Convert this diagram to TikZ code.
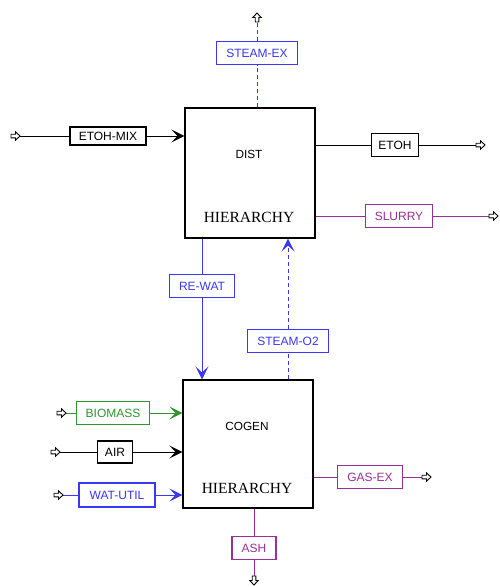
\documentclass[tikz,border=0pt]{standalone}
\usepackage{fontspec}
\setmainfont{Liberation Sans}
\newfontfamily\hierfont{Liberation Serif}
\usetikzlibrary{arrows.meta}
\definecolor{strblue}{RGB}{56,56,245}
\definecolor{strgreen}{RGB}{46,150,46}
\definecolor{strpurple}{RGB}{153,48,153}
\tikzset{
  block/.style={draw=black, line width=1.1pt, fill=white, minimum width=130pt, minimum height=130pt, inner sep=0pt},
  blocktext/.style={font=\fontsize{11.8}{12}\selectfont, inner sep=0pt},
  hiertext/.style={font=\hierfont\fontsize{15.5}{16}\selectfont, inner sep=0pt},
  tag/.style={draw=#1, text=#1, fill=white, line width=1.1pt, minimum height=23pt, inner sep=3pt,
              font=\fontsize{12}{12}\selectfont},
  flow/.style={draw=#1, line width=0.9pt},
  feed/.style={-{Stealth[length=13pt,width=13pt,inset=6pt]}},
  dashedflow/.style={dash pattern=on 4pt off 3pt},
  portout/.pic={\draw[black, fill=white, line width=0.9pt]
     (0,-1.8) -- (4.5,-1.8) -- (4.5,-4.2) -- (9,0) -- (4.5,4.2) -- (4.5,1.8) -- (0,1.8) -- cycle;},
  portin/.pic={\draw[black, fill=white, line width=0.9pt]
     (-9,-1.8) -- (-4.5,-1.8) -- (-4.5,-4.2) -- (0,0) -- (-4.5,4.2) -- (-4.5,1.8) -- (-9,1.8) -- cycle;},
}
\begin{document}
\begin{tikzpicture}[x=1pt, y=-1pt]
\useasboundingbox (0,0) rectangle (499,587);

% hierarchy blocks
\node[block] (dist) at (250,173) {};
\node[blocktext] at (249,154) {DIST};
\node[hiertext] at (249,217) {HIERARCHY};
\node[block, minimum height=128pt] (cogen) at (248,444) {};
\node[blocktext] at (247,426) {COGEN};
\node[hiertext] at (247,488) {HIERARCHY};

% free stream ends
\coordinate (stexout) at (257,22);
\coordinate (mixin) at (20,136);
\coordinate (etohout) at (476,145);
\coordinate (slurout) at (489,216);
\coordinate (bioin) at (66,413);
\coordinate (airin) at (60,452);
\coordinate (watin) at (63,495);
\coordinate (gasout) at (422,477);
\coordinate (ashout) at (254,576);

% stream tags
\node[tag=strblue, minimum width=81pt] (stex) at (257,53) {STEAM-EX};
\node[tag=black, minimum width=76pt, minimum height=18pt] (mix) at (108,136) {ETOH-MIX};
\node[tag=black, minimum width=47pt] (etoh) at (395,145) {ETOH};
\node[tag=strpurple, minimum width=67pt] (slur) at (399,216) {SLURRY};
\node[tag=strblue, minimum width=65pt] (rewat) at (202,286) {RE-WAT};
\node[tag=strblue, minimum width=81pt] (sto2) at (288,341) {STEAM-O2};
\node[tag=strgreen, minimum width=73pt] (bio) at (113,413) {BIOMASS};
\node[tag=black, minimum width=35pt, minimum height=22pt] (air) at (115,452) {AIR};
\node[tag=strblue, minimum width=76pt, minimum height=24pt] (wat) at (117,495) {WAT-UTIL};
\node[tag=strpurple, minimum width=65pt] (gas) at (370,477) {GAS-EX};
\node[tag=strpurple, minimum width=44pt] (ash) at (254,548) {ASH};

% streams around DIST
\draw[flow=strblue, dashedflow] (stex.south |- dist.north) -- (stex);
\draw[flow=strblue, dashedflow] (stex) -- (stexout);
\draw[flow=black] (mixin) -- (mix);
\draw[flow=black, feed] (mix) -- (dist.west |- mix);
\draw[flow=black] (dist.east |- etoh) -- (etoh) -- (etohout);
\draw[flow=strpurple] (dist.east |- slur) -- (slur) -- (slurout);

% streams between the blocks
\draw[flow=strblue] (dist.south -| rewat) -- (rewat);
\draw[flow=strblue, feed] (rewat) -- (cogen.north -| rewat);
\draw[flow=strblue, dashedflow] (cogen.north -| sto2) -- (sto2);
\draw[flow=strblue, dashedflow, feed] (sto2) -- (dist.south -| sto2);

% streams around COGEN
\draw[flow=strgreen] (bioin) -- (bio);
\draw[flow=strgreen, feed] (bio) -- (cogen.west |- bio);
\draw[flow=black] (airin) -- (air);
\draw[flow=black, feed] (air) -- (cogen.west |- air);
\draw[flow=strblue] (watin) -- (wat);
\draw[flow=strblue, feed] (wat) -- (cogen.west |- wat);
\draw[flow=strpurple] (cogen.east |- gas) -- (gas) -- (gasout);
\draw[flow=strpurple] (cogen.south -| ash) -- (ash) -- (ashout);

% port symbols at the stream ends
\pic[rotate=90] at (stexout) {portout};
\pic at (mixin) {portin};
\pic at (etohout) {portout};
\pic at (slurout) {portout};
\pic at (bioin) {portin};
\pic at (airin) {portin};
\pic at (watin) {portin};
\pic at (gasout) {portout};
\pic[rotate=-90] at (ashout) {portout};
\end{tikzpicture}
\end{document}
